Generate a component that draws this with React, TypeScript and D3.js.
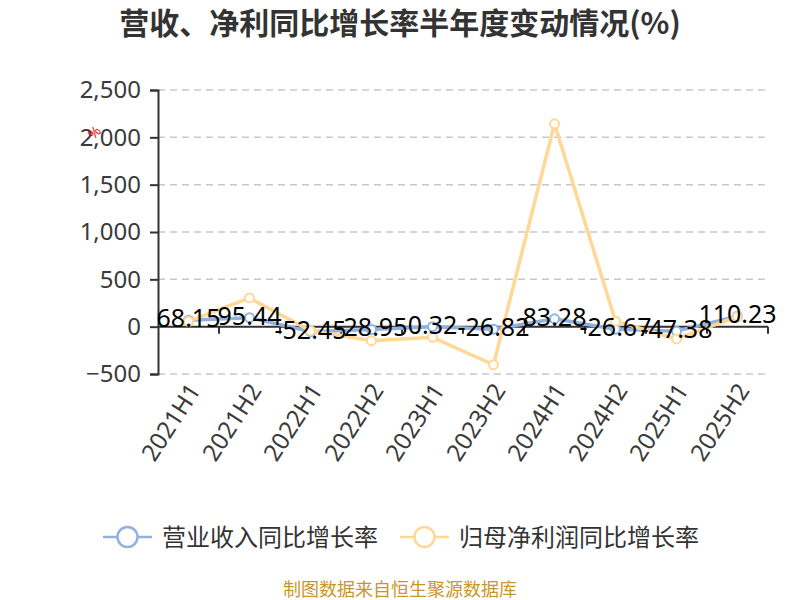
import React, { useRef, useEffect } from 'react';
import * as d3 from 'd3';

const categories = ['2021H1', '2021H2', '2022H1', '2022H2', '2023H1', '2023H2', '2024H1', '2024H2', '2025H1', '2025H2'];
const revenueGrowth = [68.15, 95.44, -52.45, -28.95, 0.32, -26.82, 83.28, -26.67, -47.38, 110.23];
const profitGrowth = [56, 303, -42, -148, -113, -402, 2143, 58, -130, 105];
const yTicks = [-500, 0, 500, 1000, 1500, 2000, 2500];
const seriesNames = ['营业收入同比增长率', '归母净利润同比增长率'];

const BLUE = '#8fb2e2';
const ORANGE = '#ffd897';
const FONT = '"Noto Sans", "Noto Sans CJK SC", sans-serif';
const CJK = '"Noto Sans CJK SC", "Noto Sans", sans-serif';

function App(): React.ReactElement {
    const ref = useRef<HTMLDivElement | null>(null);

    useEffect(() => {
        if (!ref.current) return;
        const container = ref.current;
        d3.select(container).selectAll('*').remove();

        const width = 800;
        const height = 600;
        const margin = { top: 90, right: 32, bottom: 226, left: 158 };

        const svg = d3
            .select(container)
            .append('svg')
            .attr('width', width)
            .attr('height', height)
            .style('display', 'block');

        const x = d3
            .scaleBand<string>()
            .domain(categories)
            .range([margin.left, width - margin.right])
            .paddingInner(0)
            .paddingOuter(0);
        const cx = (c: string) => (x(c) ?? 0) + x.bandwidth() / 2;

        const y = d3
            .scaleLinear()
            .domain([-500, 2500])
            .range([height - margin.bottom, margin.top]);

        // title
        svg.append('text')
            .attr('x', 400)
            .attr('y', 34)
            .attr('text-anchor', 'middle')
            .style('font-family', CJK)
            .style('font-weight', 'bold')
            .style('font-size', '30px')
            .attr('fill', '#333')
            .text('营收、净利同比增长率半年度变动情况(%)');

        // grid
        svg.append('g')
            .selectAll('line')
            .data(yTicks)
            .join('line')
            .attr('x1', margin.left)
            .attr('x2', width - margin.right)
            .attr('y1', d => y(d))
            .attr('y2', d => y(d))
            .attr('stroke', '#c8c8c8')
            .attr('stroke-width', 1.5)
            .attr('stroke-dasharray', '7,5');

        // y axis
        const yAxis = svg.append('g')
            .attr('transform', `translate(${margin.left},0)`)
            .call(d3.axisLeft(y).tickValues(yTicks).tickSize(8).tickPadding(9).tickFormat(d3.format(',')));
        yAxis.select('.domain').attr('stroke', '#333').attr('stroke-width', 2);
        yAxis.selectAll('.tick line').attr('stroke', '#333').attr('stroke-width', 2);
        yAxis.selectAll('.tick text')
            .attr('fill', '#3a3a3a')
            .style('font-family', FONT)
            .style('font-size', '24px');

        // axis name
        svg.append('text')
            .attr('transform', `translate(94,132) rotate(-45)`)
            .attr('text-anchor', 'middle')
            .attr('dominant-baseline', 'central')
            .style('font-family', FONT)
            .style('font-size', '14px')
            .attr('fill', '#e00')
            .text('%');

        // x axis at zero
        const y0 = y(0);
        svg.append('line')
            .attr('x1', margin.left)
            .attr('x2', width - margin.right)
            .attr('y1', y0)
            .attr('y2', y0)
            .attr('stroke', '#333')
            .attr('stroke-width', 2);
        svg.append('g')
            .selectAll('line')
            .data(categories)
            .join('line')
            .attr('x1', d => (x(d) ?? 0) + x.bandwidth())
            .attr('x2', d => (x(d) ?? 0) + x.bandwidth())
            .attr('y1', y0)
            .attr('y2', y0 + 7)
            .attr('stroke', '#333')
            .attr('stroke-width', 2);

        // x labels
        const labelY = height - margin.bottom + 12;
        svg.append('g')
            .selectAll('text')
            .data(categories)
            .join('text')
            .attr('transform', d => `translate(${cx(d) + 6},${labelY}) rotate(-57)`)
            .attr('text-anchor', 'end')
            .attr('dy', '0.35em')
            .style('font-family', FONT)
            .style('font-size', '24px')
            .attr('fill', '#3a3a3a')
            .text(d => d);

        const series = [
            { values: revenueGrowth, color: BLUE },
            { values: profitGrowth, color: ORANGE },
        ];

        const line = d3
            .line<number>()
            .x((_, i) => cx(categories[i]))
            .y(d => y(d));

        series.forEach(s => {
            svg.append('path')
                .attr('d', line(s.values) ?? '')
                .attr('fill', 'none')
                .attr('stroke', s.color)
                .attr('stroke-width', 3.5)
                .attr('stroke-linejoin', 'round');
            svg.append('g')
                .selectAll('circle')
                .data(s.values)
                .join('circle')
                .attr('cx', (_, i) => cx(categories[i]))
                .attr('cy', d => y(d))
                .attr('r', 4.5)
                .attr('fill', '#fff')
                .attr('stroke', s.color)
                .attr('stroke-width', 2);
        });

        // data labels for revenue
        svg.append('g')
            .selectAll('text')
            .data(revenueGrowth)
            .join('text')
            .attr('x', (_, i) => cx(categories[i]))
            .attr('y', d => y(d) - 3)
            .attr('text-anchor', 'middle')
            .attr('dominant-baseline', 'central')
            .style('font-family', FONT)
            .style('font-size', '25px')
            .attr('fill', '#000')
            .text(d => d.toFixed(2));

        // legend
        const legendItems = [
            { name: seriesNames[0], color: BLUE, x: 103 },
            { name: seriesNames[1], color: ORANGE, x: 400 },
        ];
        const legend = svg.append('g');
        legendItems.forEach(it => {
            const g = legend.append('g').attr('transform', `translate(${it.x},537)`);
            g.append('line')
                .attr('x1', 0)
                .attr('x2', 49)
                .attr('stroke', it.color)
                .attr('stroke-width', 2.5);
            g.append('circle')
                .attr('cx', 24.5)
                .attr('r', 10)
                .attr('fill', '#fff')
                .attr('stroke', it.color)
                .attr('stroke-width', 2.5);
            g.append('text')
                .attr('x', 59)
                .attr('dy', '0.36em')
                .style('font-family', CJK)
                .style('font-size', '24px')
                .attr('fill', '#333')
                .text(it.name);
        });

        // source note
        svg.append('text')
            .attr('x', 400)
            .attr('y', 596)
            .attr('text-anchor', 'middle')
            .style('font-family', CJK)
            .style('font-size', '18px')
            .attr('fill', '#c9962c')
            .text('制图数据来自恒生聚源数据库');
    }, []);

    return <div ref={ref} style={{ position: 'absolute', left: 0, top: 0, width: 800, height: 600 }} />;
}

export default App;
